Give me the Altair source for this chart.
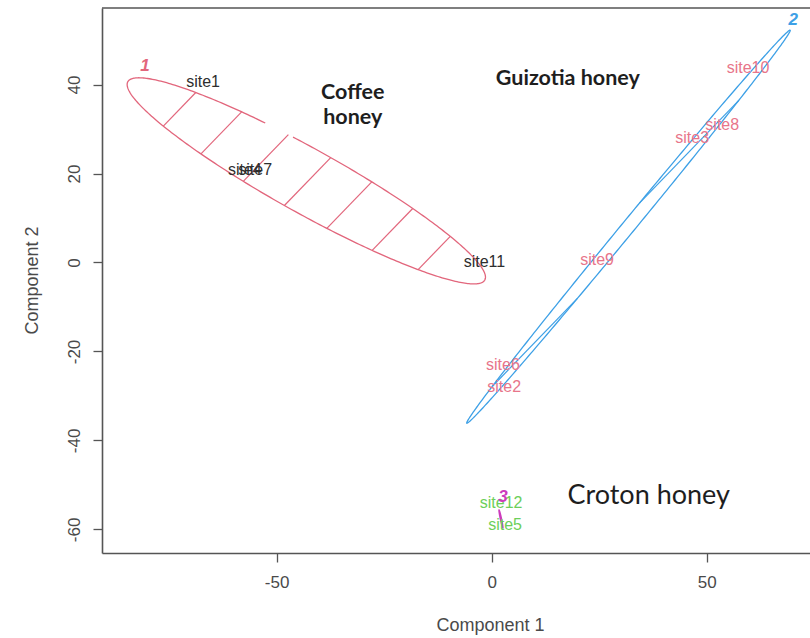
import numpy as np
import pandas as pd
import altair as alt

# Site scores on the first two principal components
site_names = ["site1", "site4", "site7", "site11",
              "site10", "site8", "site3", "site9", "site6", "site2",
              "site12", "site5"]
site_x = [-67.1, -57.4, -55.0, -1.7, 59.6, 53.6, 46.6, 24.5, 2.6, 2.9, 2.2, 3.1]
site_y = [40.6, 20.8, 20.8, 0.1, 43.7, 30.9, 28.0, 0.6, -23.0, -28.0, -54.0, -59.0]
site_cluster = [1, 1, 1, 1, 2, 2, 2, 2, 2, 2, 3, 3]

# Cluster ellipses: centre, semi-axes and orientation (degrees)
clusters = [1, 2, 3]
ell_cx = [-43.1, 31.8, 2.15]
ell_cy = [18.35, 8.05, -57.65]
ell_a = [47.1, 58.0, 2.1]
ell_b = [7.3, 1.5, 0.15]
ell_angle = [-28.2, 49.6, -77.6]
# shading lines y - x = c inside each ellipse
hatch_c = {1: [107, 92, 76, 61, 46, 30.5, 15.5], 2: [-21.0, -28.0], 3: []}
# break in the outline of cluster 1 (x range on the upper edge)
gap_x = {1: (-52.0, -46.9)}

# Cluster number labels
num_x = [-80.6, 70.1, 2.6]
num_y = [44.2, 54.5, -52.7]

# Honey type annotations
bold_text = ["Coffee", "honey", "Guizotia honey"]
bold_x = [-32.3, -32.3, 17.7]
bold_y = [38.1, 32.5, 41.3]
plain_text = ["Croton honey"]
plain_x = [36.5]
plain_y = [-52.6]

x_ticks = [-50, 0, 50]
y_ticks = [-60, -40, -20, 0, 20, 40]
x_domain = [-90.6, 74.0]
y_domain = [-65.3, 57.2]

ell_colors = ["#E2667C", "#3DA0E6", "#CD3BBC"]
txt_colors = ["#2e2e2e", "#E8758A", "#6CCF5A"]


def outline(k):
    t = np.linspace(0, 2 * np.pi, 361)
    th = np.radians(ell_angle[k])
    u = ell_a[k] * np.cos(t)
    v = ell_b[k] * np.sin(t)
    x = ell_cx[k] + u * np.cos(th) - v * np.sin(th)
    y = ell_cy[k] + u * np.sin(th) + v * np.cos(th)
    keep = np.ones_like(x, dtype=bool)
    c = clusters[k]
    if c in gap_x:
        lo, hi = gap_x[c]
        keep = ~((v > 0) & (x > lo) & (x < hi))
    seg = np.cumsum(~keep)
    return [dict(cluster=c, seg=f"{c}-{s}", i=i, x=xx, y=yy)
            for i, (xx, yy, s, kp) in enumerate(zip(x, y, seg, keep)) if kp]


def chords(k):
    th = np.radians(ell_angle[k])
    ux, uy = np.cos(th), np.sin(th)
    vx, vy = -np.sin(th), np.cos(th)
    out = []
    for c in hatch_c[clusters[k]]:
        # point on the line: (s, s + c)
        px, py = -ell_cx[k], c - ell_cy[k]
        du, dv = ux + uy, vx + vy
        pu, pv = px * ux + py * uy, px * vx + py * vy
        A = du**2 / ell_a[k]**2 + dv**2 / ell_b[k]**2
        B = 2 * (pu * du / ell_a[k]**2 + pv * dv / ell_b[k]**2)
        C = pu**2 / ell_a[k]**2 + pv**2 / ell_b[k]**2 - 1
        disc = B * B - 4 * A * C
        if disc <= 0:
            continue
        s1 = (-B - np.sqrt(disc)) / (2 * A)
        s2 = (-B + np.sqrt(disc)) / (2 * A)
        out.append(dict(cluster=clusters[k], x=s1, y=s1 + c, x2=s2, y2=s2 + c))
    return out


ell_df = pd.DataFrame([r for k in range(len(clusters)) for r in outline(k)])
hatch_df = pd.DataFrame([r for k in range(len(clusters)) for r in chords(k)])
sites_df = pd.DataFrame(dict(name=site_names, x=site_x, y=site_y, grp=site_cluster))
nums_df = pd.DataFrame(dict(num=[str(c) for c in clusters], x=num_x, y=num_y, cl=clusters))
bold_df = pd.DataFrame(dict(t=bold_text, x=bold_x, y=bold_y))
plain_df = pd.DataFrame(dict(t=plain_text, x=plain_x, y=plain_y))

W, H = 708, 545

xs = alt.Scale(domain=x_domain, nice=False, zero=False)
ys = alt.Scale(domain=y_domain, nice=False, zero=False)

# plain hyphen-minus in tick labels
plain_label = "'' + datum.value"

x_axis = alt.Axis(values=x_ticks, title="Component 1", grid=False, labelExpr=plain_label,
                  domainColor="#555", domainWidth=1.6, tickColor="#555",
                  tickWidth=1.3, tickSize=9, labelPadding=12,
                  labelFont="Liberation Sans", labelFontSize=17, labelColor="#4a4a4a",
                  titleFont="Liberation Sans", titleFontSize=18,
                  titleFontWeight="normal", titleColor="#4a4a4a",
                  titleX=388, titleY=72, titleBaseline="middle")
y_axis = alt.Axis(values=y_ticks, title="Component 2", grid=False, labelExpr=plain_label,
                  domainColor="#555", domainWidth=1.6, tickColor="#555",
                  tickWidth=1.3, tickSize=9, labelPadding=10, labelAngle=270,
                  labelAlign="center", labelBaseline="bottom",
                  labelFont="Liberation Sans", labelFontSize=17, labelColor="#4a4a4a",
                  titleFont="Liberation Sans", titleFontSize=18,
                  titleFontWeight="normal", titleColor="#4a4a4a",
                  titleAngle=270, titleX=-70, titleY=272, titleBaseline="middle")

ell_scale = alt.Scale(domain=clusters, range=ell_colors)

ellipses = alt.Chart(ell_df).mark_line(strokeWidth=1.3).encode(
    x=alt.X("x:Q", scale=xs, axis=x_axis),
    y=alt.Y("y:Q", scale=ys, axis=y_axis),
    detail="seg:N",
    order="i:Q",
    color=alt.Color("cluster:N", scale=ell_scale, legend=None),
)

hatch = alt.Chart(hatch_df).mark_rule(strokeWidth=1.2).encode(
    x="x:Q", y="y:Q", x2="x2:Q", y2="y2:Q",
    color=alt.Color("cluster:N", scale=ell_scale, legend=None),
)

labels = alt.Chart(sites_df).mark_text(font="Liberation Sans", fontSize=16).encode(
    x="x:Q", y="y:Q", text="name:N",
    color=alt.Color("grp:N", scale=alt.Scale(domain=clusters, range=txt_colors), legend=None),
)

nums = alt.Chart(nums_df).mark_text(font="Liberation Sans", fontSize=17,
                                    fontWeight="bold", fontStyle="italic").encode(
    x="x:Q", y="y:Q", text="num:N",
    color=alt.Color("cl:N", scale=ell_scale, legend=None),
)

bold_notes = alt.Chart(bold_df).mark_text(font="Lato", fontSize=21.5, fontWeight="bold",
                                          color="#1e1e1e").encode(
    x="x:Q", y="y:Q", text="t:N")

plain_notes = alt.Chart(plain_df).mark_text(font="Lato", fontSize=27,
                                            color="#1e1e1e").encode(
    x="x:Q", y="y:Q", text="t:N")

top_border = alt.Chart(plain_df).mark_rule(color="#555", strokeWidth=1.6).encode(
    x=alt.value(0), x2=alt.value(W), y=alt.value(0)
)

chart = alt.layer(ellipses, hatch, labels, nums, bold_notes, plain_notes,
                  top_border).resolve_scale(
    color="independent"
).properties(
    width=W, height=H,
    padding={"left": 102, "top": 8, "right": 0, "bottom": 85},
    autosize=alt.AutoSizeParams(type="none"),
    background="white",
).configure_view(stroke=None)

chart.save("out.html", embed_options={"renderer": "svg", "actions": False})
